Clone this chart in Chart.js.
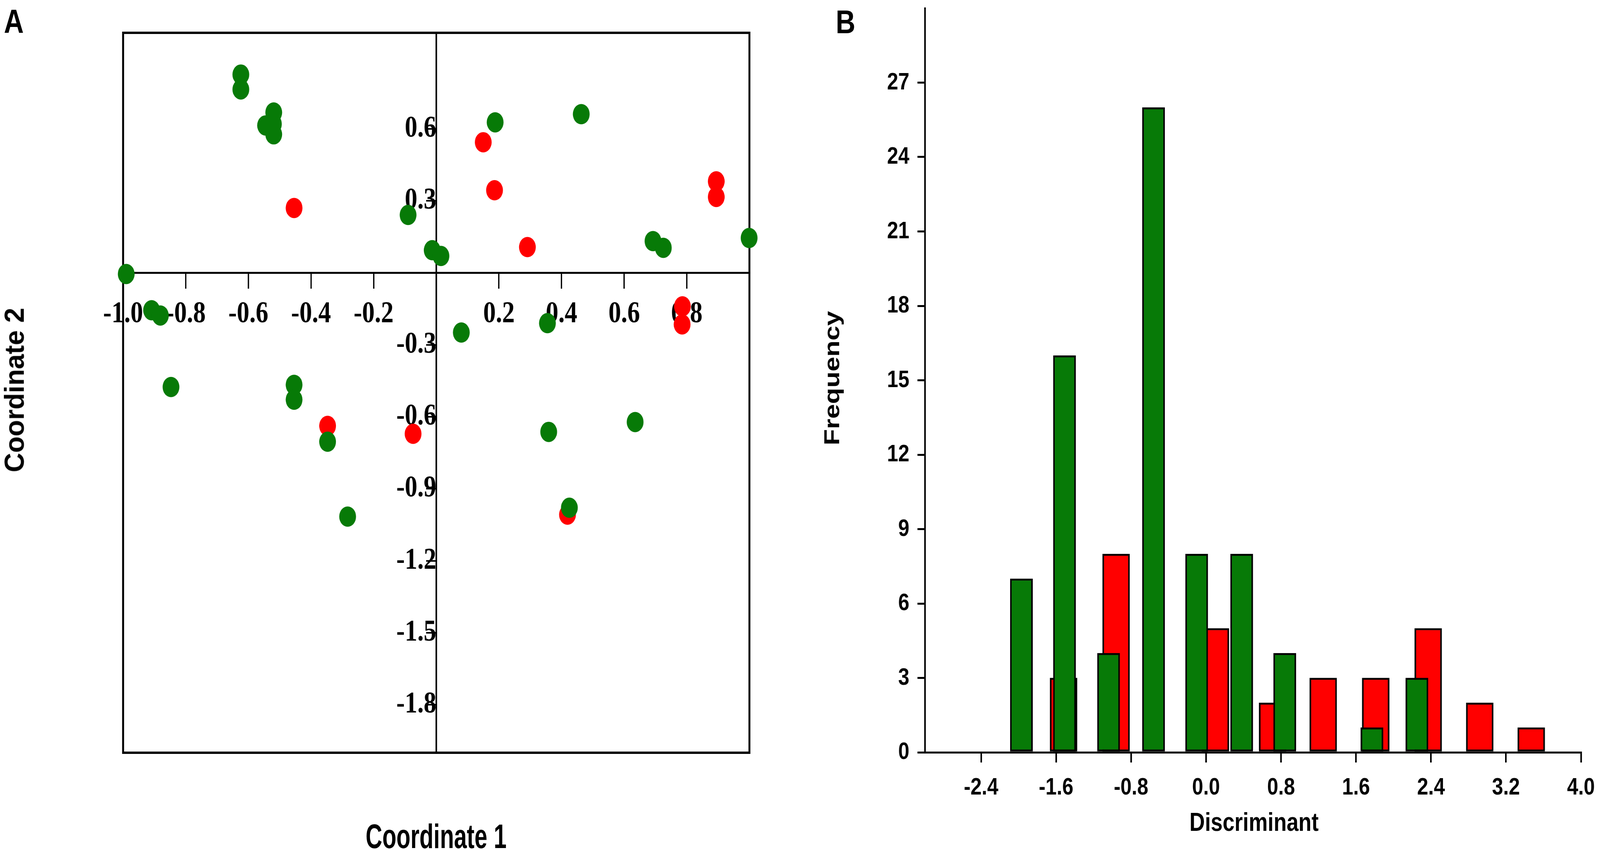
<!DOCTYPE html>
<html lang="en">
<head>
  <meta charset="UTF-8" />
  <title>Coordinates and discriminant histogram</title>
  <script src="https://cdn.jsdelivr.net/npm/chart.js@4.4.1/dist/chart.umd.min.js"></script>
  <style>
    html, body { margin: 0; padding: 0; background: #fff; overflow: hidden; }
    body { font-family: 'Liberation Sans', Arial, sans-serif; }
    #page { position: absolute; left: 0; top: 0; width: 4953px; height: 2176px; transform-origin: 0 0; background: #fff; }
    .panel { position: absolute; top: 0; height: 2176px; }
    .lbl { position: absolute; font-weight: bold; line-height: 1; white-space: nowrap; color: #000; text-align: center; }
  </style>
</head>
<body>
  <div id="page">
    <div class="panel" style="left:0;width:2450px"><canvas id="scatterCanvas"></canvas></div>
    <div class="panel" style="left:2450px;width:2503px"><canvas id="histCanvas"></canvas></div>

    <div class="lbl" style="left:12px;top:12px;font-size:85px;text-align:left">A</div>
    <div class="lbl" style="left:2587px;top:14px;font-size:84px;text-align:left">B</div>
    <div class="lbl" style="left:850px;top:2097px;width:1000px;font-size:87px;transform:scaleX(0.82)">Coordinate 1</div>
    <div class="lbl" style="left:-454px;top:955px;width:1000px;height:87px;font-size:84px;transform:rotate(-90deg) scaleX(0.82)">Coordinate 2</div>
    <div class="lbl" style="left:2074px;top:934px;width:1000px;height:68px;font-size:68px;transform:rotate(-90deg)">Frequency</div>
    <div class="lbl" style="left:3382px;top:2071px;width:1000px;font-size:66px">Discriminant</div>
  </div>

  <script>
    // the figure is laid out on a 4953 x 2176 sheet, fitted to whatever window we get
    const page = document.getElementById('page');
    page.style.transform = 'scale(' + (window.innerWidth / 4953) + ',' + (window.innerHeight / 2176) + ')';

    // panel A: principal coordinates
    const greenX = [-0.624, -0.624, -0.519, -0.545, -0.519, -0.52, -0.99, -0.09, -0.013, 0.015, 0.188, 0.463, 0.692, 0.725, 0.999,
                    -0.909, -0.881, -0.847, -0.454, -0.454, -0.347, -0.283, 0.080, 0.355, 0.359, 0.635, 0.425];
    const greenY = [0.826, 0.764, 0.668, 0.614, 0.577, 0.62, -0.005, 0.241, 0.094, 0.07, 0.627, 0.661, 0.132, 0.104, 0.145,
                    -0.156, -0.178, -0.476, -0.467, -0.529, -0.704, -1.016, -0.249, -0.21, -0.663, -0.622, -0.979];
    const redX = [-0.454, 0.150, 0.186, 0.291, 0.894, 0.894, -0.347, -0.074, 0.786, 0.785, 0.419];
    const redY = [0.270, 0.544, 0.344, 0.107, 0.381, 0.316, -0.638, -0.671, -0.14, -0.215, -1.008];
    const scatterTicksX = [-1.0, -0.8, -0.6, -0.4, -0.2, 0.2, 0.4, 0.6, 0.8];
    const scatterTicksY = [0.6, 0.3, -0.3, -0.6, -0.9, -1.2, -1.5, -1.8];

    // panel B: discriminant histogram
    const greenBins = [-1.97, -1.51, -1.04, -0.56, -0.10, 0.38, 0.84, 1.77, 2.25];
    const greenCounts = [7, 16, 4, 26, 8, 8, 4, 1, 3];
    const redBins = [-1.52, -0.96, 0.10, 0.71, 1.25, 1.81, 2.37, 2.92, 3.47];
    const redCounts = [3, 8, 5, 2, 3, 3, 5, 2, 1];
    const greenBarWidth = 0.24;
    const redBarWidth = 0.29;
    const histTicksX = [-2.4, -1.6, -0.8, 0.0, 0.8, 1.6, 2.4, 3.2, 4.0];
    const histTicksY = [0, 3, 6, 9, 12, 15, 18, 21, 24, 27];

    const GREEN = '#077a07';
    const RED = '#ff0000';

    const toPoints = (xs, ys) => xs.map((x, i) => ({ x: x, y: ys[i] }));

    const frame = {
      id: 'frame',
      beforeDatasetsDraw(chart) {
        const a = chart.chartArea;
        const c = chart.ctx;
        c.save();
        c.strokeStyle = '#000';
        c.lineWidth = 6;
        c.strokeRect(a.left, a.top, a.right - a.left, a.bottom - a.top);
        c.restore();
      }
    };

    const serifFont = { family: 'Liberation Serif', weight: 'bold', size: 78 };
    const sansFont = { family: 'Liberation Sans', weight: 'bold', size: 62 };

    new Chart(document.getElementById('scatterCanvas'), {
      type: 'scatter',
      data: {
        datasets: [
          { data: toPoints(greenX, greenY), backgroundColor: GREEN, borderWidth: 0, pointRadius: 26, clip: false },
          { data: toPoints(redX, redY), backgroundColor: RED, borderWidth: 0, pointRadius: 26, clip: false }
        ]
      },
      options: {
        responsive: true,
        maintainAspectRatio: false,
        animation: false,
        layout: { padding: { left: 381, top: 84, right: 130, bottom: 249 } },
        plugins: { legend: { display: false }, tooltip: { enabled: false } },
        scales: {
          x: {
            type: 'linear', min: -1, max: 1, position: { y: 0 },
            border: { display: true, color: '#000', width: 5 },
            grid: { drawOnChartArea: false, drawTicks: true, tickLength: 38, color: '#000', lineWidth: 4 },
            ticks: { color: '#000', padding: 22, font: serifFont, maxRotation: 0, autoSkip: false, callback: v => v.toFixed(1) },
            afterBuildTicks: s => { s.ticks = scatterTicksX.map(v => ({ value: v })); }
          },
          y: {
            type: 'linear', min: -2, max: 1, position: { x: 0 },
            border: { display: true, color: '#000', width: 5 },
            grid: { drawOnChartArea: false, drawTicks: true, tickLength: 29, color: '#000', lineWidth: 4 },
            ticks: { color: '#000', padding: 20, font: serifFont, autoSkip: false, callback: v => v.toFixed(1) },
            afterBuildTicks: s => { s.ticks = scatterTicksY.map(v => ({ value: v })); }
          }
        }
      },
      plugins: [frame]
    });

    // bar width in pixels from a width in discriminant units
    function barPx(chart, w) {
      const s = chart.scales.x;
      if (!s || !s.width) return 40;
      return Math.abs(s.getPixelForValue(w) - s.getPixelForValue(0));
    }

    new Chart(document.getElementById('histCanvas'), {
      type: 'bar',
      data: {
        datasets: [
          {
            data: toPoints(greenBins, greenCounts), backgroundColor: GREEN, borderColor: '#000', borderWidth: 5,
            borderSkipped: false, grouped: false, barThickness: ctx => barPx(ctx.chart, greenBarWidth)
          },
          {
            data: toPoints(redBins, redCounts), backgroundColor: RED, borderColor: '#000', borderWidth: 5,
            borderSkipped: false, grouped: false, barThickness: ctx => barPx(ctx.chart, redBarWidth)
          }
        ]
      },
      options: {
        responsive: true,
        maintainAspectRatio: false,
        animation: false,
        layout: { padding: { left: 0, top: 21, right: 59, bottom: 0 } },
        plugins: { legend: { display: false }, tooltip: { enabled: false } },
        scales: {
          x: {
            type: 'linear', min: -3, max: 4, offset: false,
            border: { display: true, color: '#000', width: 5 },
            grid: { offset: false, drawOnChartArea: false, drawTicks: true, tickLength: 26, color: '#000', lineWidth: 5 },
            ticks: { color: '#000', padding: 28, font: sansFont, maxRotation: 0, autoSkip: false, callback: v => v.toFixed(1) },
            afterBuildTicks: s => { s.ticks = histTicksX.map(v => ({ value: v })); },
            afterFit: s => { s.height = 250; s.paddingLeft = 0; s.paddingRight = 0; }
          },
          y: {
            type: 'linear', min: 0, max: 30,
            border: { display: true, color: '#000', width: 5 },
            grid: { drawOnChartArea: false, drawTicks: true, tickLength: 23, color: '#000', lineWidth: 5 },
            ticks: { color: '#000', padding: 25, font: sansFont, autoSkip: false },
            afterBuildTicks: s => { s.ticks = histTicksY.map(v => ({ value: v })); },
            afterFit: s => { s.width = 413; s.paddingTop = 0; s.paddingBottom = 0; }
          }
        }
      }
    });
  </script>
</body>
</html>
